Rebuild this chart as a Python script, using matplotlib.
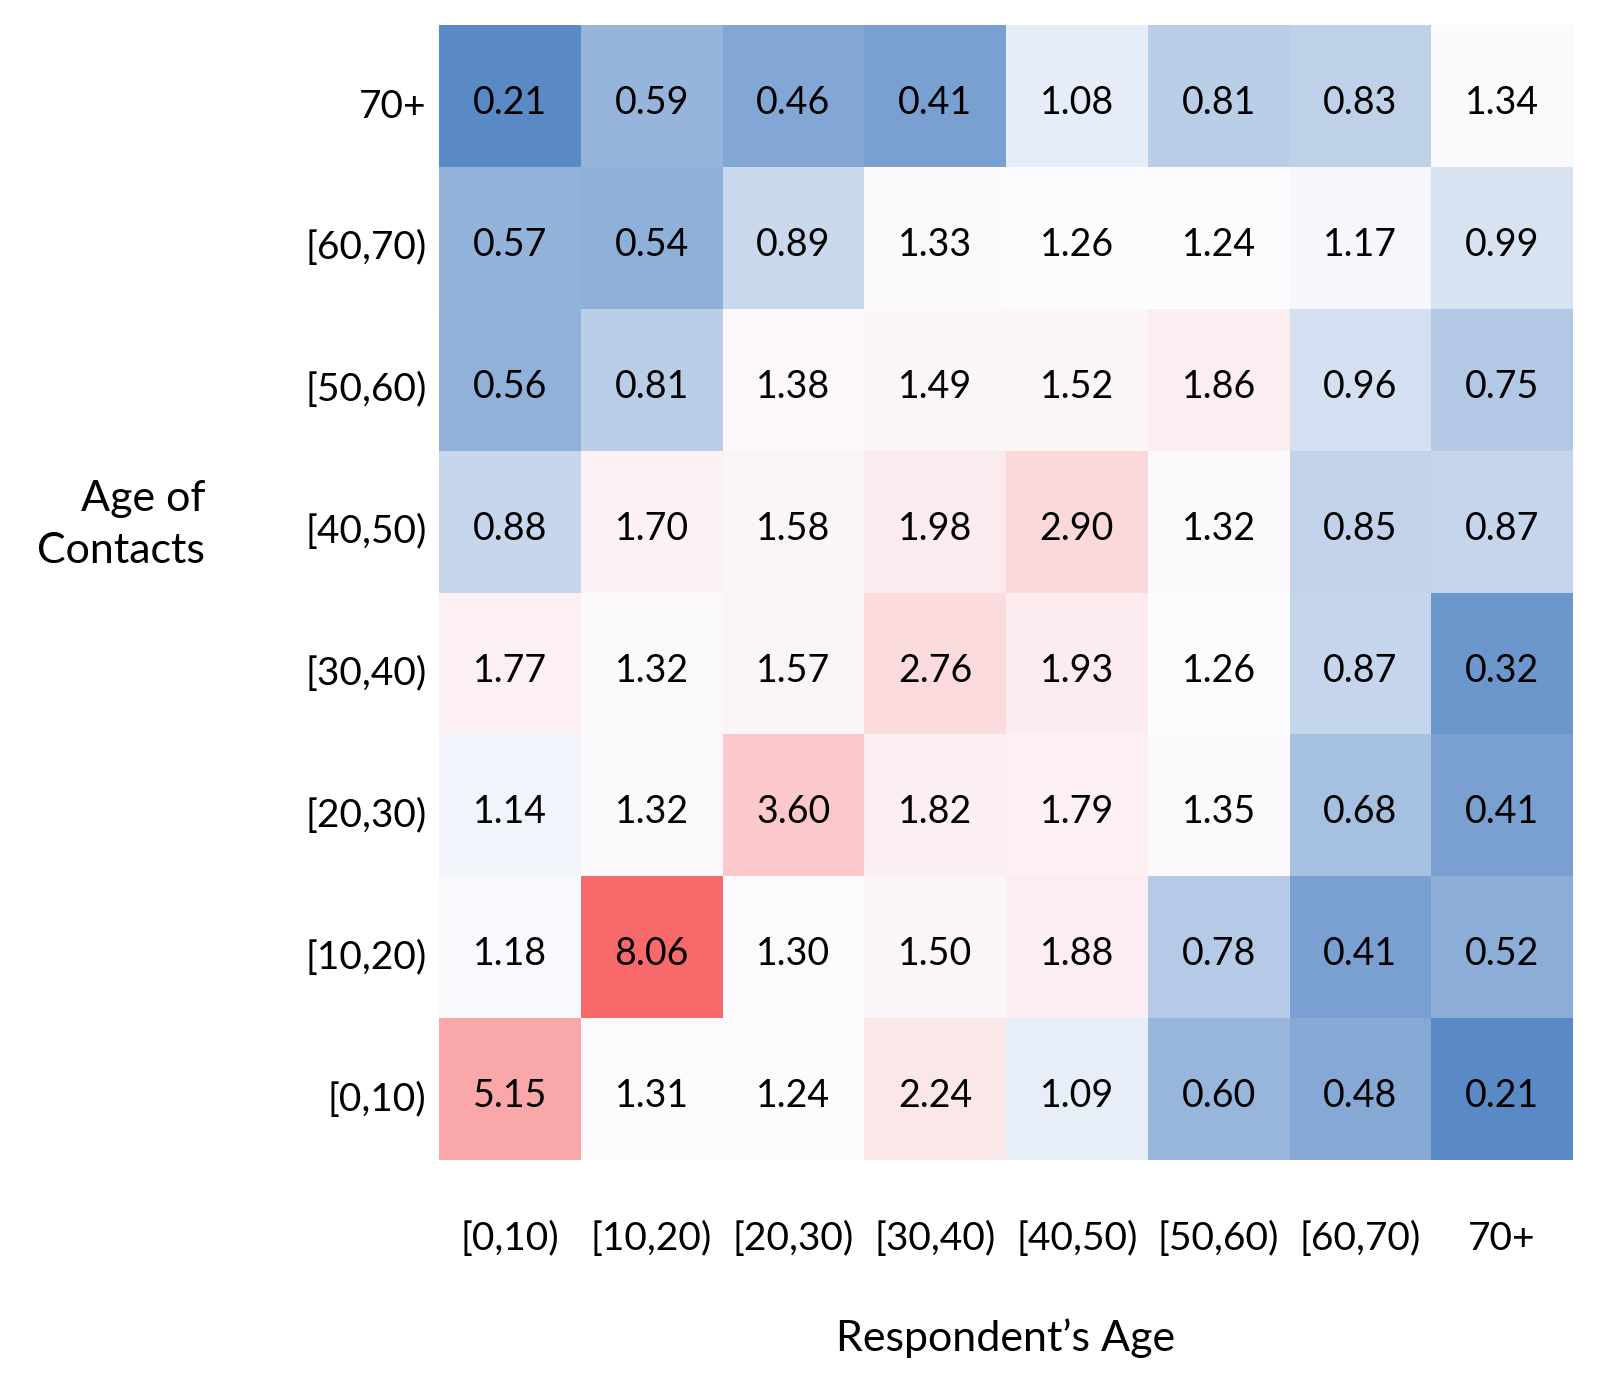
import numpy as np
import matplotlib
matplotlib.use("Agg")
import matplotlib.pyplot as plt
from matplotlib.colors import LinearSegmentedColormap, TwoSlopeNorm

plt.rcParams['font.family'] = ['Lato', 'DejaVu Sans']

respondent_ages = ['[0,10)', '[10,20)', '[20,30)', '[30,40)', '[40,50)', '[50,60)', '[60,70)', '70+']
contact_ages = ['[0,10)', '[10,20)', '[20,30)', '[30,40)', '[40,50)', '[50,60)', '[60,70)', '70+']

# rows = age of contacts, from [0,10) up to 70+; columns = respondent's age
row_0_10 = [5.15, 1.31, 1.24, 2.24, 1.09, 0.60, 0.48, 0.21]
row_10_20 = [1.18, 8.06, 1.30, 1.50, 1.88, 0.78, 0.41, 0.52]
row_20_30 = [1.14, 1.32, 3.60, 1.82, 1.79, 1.35, 0.68, 0.41]
row_30_40 = [1.77, 1.32, 1.57, 2.76, 1.93, 1.26, 0.87, 0.32]
row_40_50 = [0.88, 1.70, 1.58, 1.98, 2.90, 1.32, 0.85, 0.87]
row_50_60 = [0.56, 0.81, 1.38, 1.49, 1.52, 1.86, 0.96, 0.75]
row_60_70 = [0.57, 0.54, 0.89, 1.33, 1.26, 1.24, 1.17, 0.99]
row_70_plus = [0.21, 0.59, 0.46, 0.41, 1.08, 0.81, 0.83, 1.34]

M = np.array([row_0_10, row_10_20, row_20_30, row_30_40,
              row_40_50, row_50_60, row_60_70, row_70_plus])

# Excel-like red / white / blue colour scale, midpoint at the median
cmap = LinearSegmentedColormap.from_list('rwb', ['#5A8AC6', '#FCFCFF', '#F8696B'])
norm = TwoSlopeNorm(vmin=M.min(), vcenter=np.percentile(M, 50), vmax=M.max())

fig = plt.figure(figsize=(16.12, 13.88), dpi=100)
ax = fig.add_axes([439/1612, 1 - 1160/1388, 1134/1612, 1135/1388])

ax.pcolormesh(np.arange(9), np.arange(9), M, cmap=cmap, norm=norm)
for i in range(M.shape[0]):
    for j in range(M.shape[1]):
        # labels sit a touch below the cell centre, as in the original
        ax.text(j + 0.5, i + 0.45, f"{M[i, j]:.2f}", ha='center', va='center', fontsize=27)

ax.set_xlim(0, 8)
ax.set_ylim(0, 8)
ax.set_xticks(np.arange(8) + 0.5)
ax.set_xticklabels(respondent_ages, fontsize=28)
ax.set_yticks(np.arange(8) + 0.45)
ax.set_yticklabels(contact_ages, fontsize=28)
ax.tick_params(length=0)
ax.tick_params(axis='x', pad=44)
ax.tick_params(axis='y', pad=9)
for s in ax.spines.values():
    s.set_visible(False)

ax.set_xlabel("Respondent\u2019s Age", fontsize=31, labelpad=44)
fig.text(205/1612, 1 - 525/1388, "Age of\nContacts", ha='right', va='center',
         multialignment='right', fontsize=31, linespacing=1.45)

fig.savefig("out.png", dpi=100)
